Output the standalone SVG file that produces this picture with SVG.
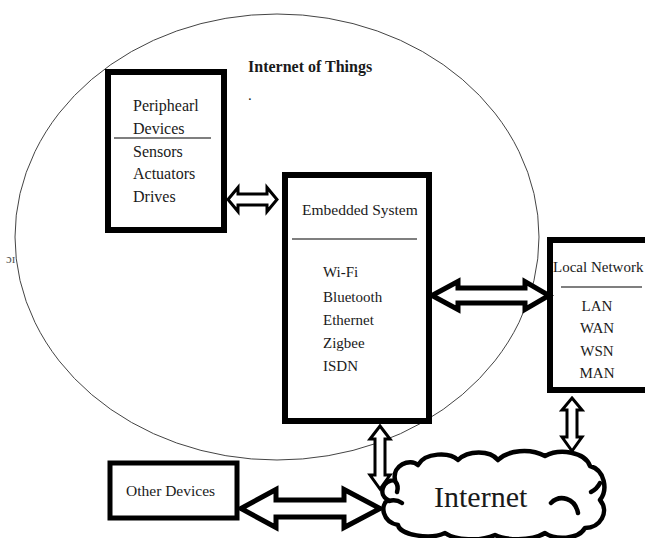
<svg xmlns="http://www.w3.org/2000/svg" width="645" height="538" viewBox="0 0 645 538">
<style>
text{font-family:"Liberation Serif","Times New Roman",serif;fill:#1a1a1a;font-size:15px}
.box{fill:#fff;stroke:#000;stroke-width:6}
.div{stroke:#000;stroke-width:1.2}
.arr{fill:#fff;stroke:#000;stroke-linejoin:miter}
.thin{stroke-width:3}
.thick{stroke-width:5}
.cloud{fill:#fff;stroke:#000;stroke-width:4.5;stroke-linejoin:round;stroke-linecap:round}
.curl{fill:none;stroke:#000;stroke-width:4.5;stroke-linecap:round}
</style>
<rect width="645" height="538" fill="#fff"/>
<g id="iot-boundary">
<ellipse cx="277" cy="237" rx="262" ry="223" fill="none" stroke="#444" stroke-width="1"/>
<text x="248" y="72" style="font-weight:bold;font-size:16px">Internet of Things</text>
<text x="248" y="100">.</text>
<text x="6" y="263" style="font-size:13px;fill:#555">ɔɪ</text>
</g>
<g id="peripheral">
<rect class="box" x="108" y="72" width="116" height="158"/>
<line class="div" x1="114" y1="138" x2="211" y2="138"/>
<text x="133" y="111" style="font-size:16px">Periphearl</text>
<text x="133" y="134" style="font-size:16px">Devices</text>
<text x="133" y="157" style="font-size:16px">Sensors</text>
<text x="133" y="179" style="font-size:16px">Actuators</text>
<text x="133" y="202" style="font-size:16px">Drives</text>
</g>
<g id="embedded">
<rect class="box" x="285" y="175" width="144" height="246"/>
<text x="302" y="215" style="font-size:15.5px">Embedded System</text>
<line class="div" x1="292" y1="239" x2="417" y2="239"/>
<text x="323" y="277">Wi-Fi</text>
<text x="323" y="302">Bluetooth</text>
<text x="323" y="325">Ethernet</text>
<text x="323" y="348">Zigbee</text>
<text x="323" y="371">ISDN</text>
</g>
<g id="local-network">
<rect class="box" x="550" y="240" width="110" height="150"/>
<text x="553" y="272">Local Network</text>
<line class="div" x1="561" y1="287" x2="642" y2="287"/>
<text x="597" y="311" text-anchor="middle">LAN</text>
<text x="597" y="333" text-anchor="middle">WAN</text>
<text x="597" y="356" text-anchor="middle">WSN</text>
<text x="597" y="378" text-anchor="middle">MAN</text>
</g>
<g id="other-devices">
<rect class="box" x="110" y="463" width="127" height="55" style="stroke-width:5"/>
<text x="126" y="496" style="font-size:15.5px">Other Devices</text>
</g>
<g id="internet">
<path class="cloud" d="M395,480 C392,465 410,458 418,465 C425,452 450,452 458,460 C468,450 490,450 498,460 C508,450 530,448 545,456 C560,448 585,452 590,466 C605,470 608,490 600,500 C610,512 600,528 585,528 C578,540 555,540 545,533 C530,542 505,540 495,535 C480,542 455,540 445,533 C430,540 400,535 398,525 C382,522 380,505 388,500 C378,495 382,480 395,480 Z"/>
<path class="curl" d="M389,501 Q396,499 402,503"/>
<path class="curl" d="M395,481 Q399,486 397,492"/>
<path class="curl" d="M551,503 C560,494 575,498 578,513"/>
<path class="curl" d="M591,492 Q597,489 600,483"/>
<text x="434" y="507" style="font-size:30px">Internet</text>
</g>
<g id="connectors">
<polygon class="arr thin" points="228,199.5 238,187.5 238,194 267,194 267,187.5 277,199.5 267,211.5 267,205 238,205 238,211.5"/>
<polygon class="arr thick" points="432,295.5 458,281.5 458,288 525,288 525,281.5 549,295.5 525,309.5 525,303 458,303 458,309.5"/>
<polygon class="arr thin" points="380,426 390,439 385,439 385,475 390,475 380,489 370,475 375,475 375,439 370,439"/>
<polygon class="arr thin" points="572,398 582,410 577,410 577,437 582,437 572,451 562,437 567,437 567,410 562,410"/>
<polygon class="arr thick" points="241,508.5 276,489.5 276,500 344,500 344,489.5 380,508.5 344,527.5 344,517 276,517 276,527.5"/>
</g>
</svg>
